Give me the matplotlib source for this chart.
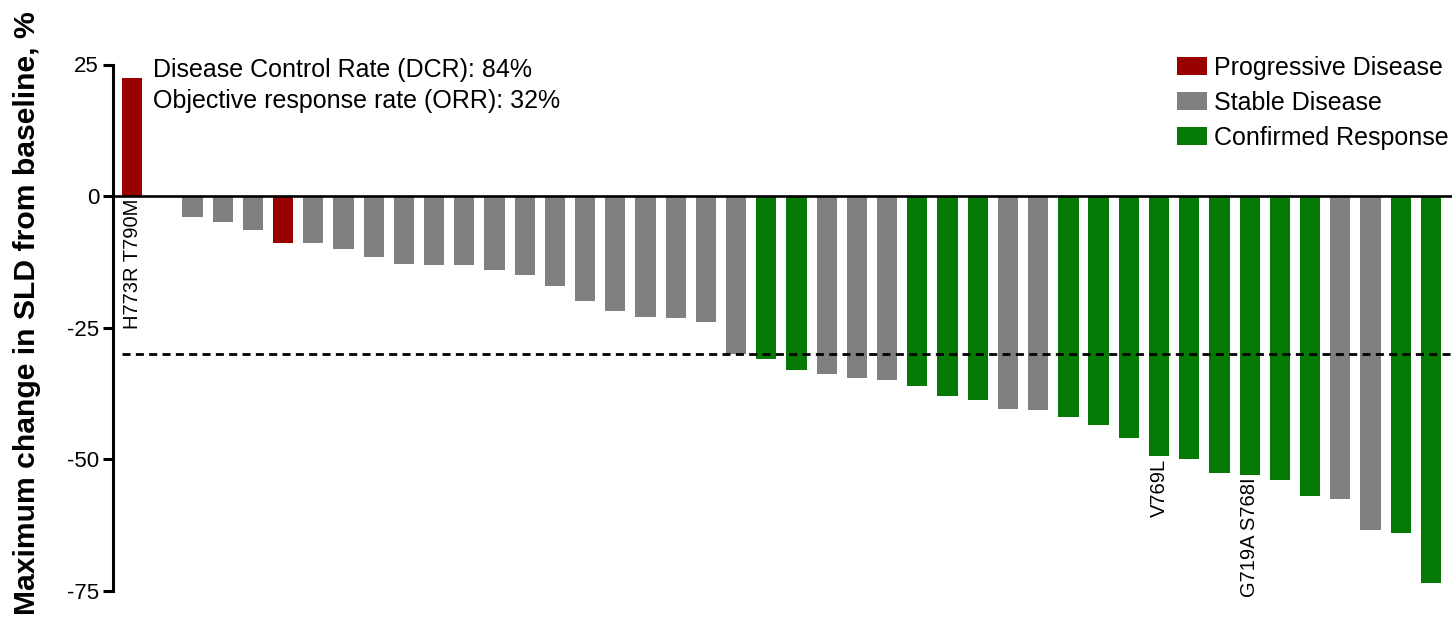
import numpy as np
import matplotlib
matplotlib.use("Agg")
import matplotlib.pyplot as plt
from matplotlib.patches import Patch

plt.rcParams['font.family'] = ['Liberation Sans', 'DejaVu Sans']

# ---- data ----
values = [22.5, 0.0, -4.0, -5.0, -6.4, -8.9,
          -8.9, -10.0, -11.6, -12.9, -13.1, -13.1, -14.1, -15.0, -17.0,
          -20.0, -21.8, -23.0, -23.1, -24.0,
          -30.0, -31.0, -33.0, -33.7, -34.5, -35.0, -36.0, -38.0, -38.7,
          -40.5, -40.7, -42.0, -43.5, -46.0, -49.4, -50.0, -52.5, -53.0,
          -54.0, -57.0, -57.6, -63.5, -64.0, -73.4]
status = (['PD'] + ['SD'] * 4 + ['PD'] + ['SD'] * 15 + ['CR'] * 2 + ['SD'] * 3
          + ['CR'] * 3 + ['SD'] * 2 + ['CR'] * 9 + ['SD'] * 2 + ['CR'] * 2)
mutation_idx = [0, 34, 37]
mutation_txt = ['H773R T790M', 'V769L', 'G719A S768I']

legend_names = {'PD': 'Progressive Disease', 'SD': 'Stable Disease',
                'CR': 'Confirmed Response'}
colors = {'PD': '#9b0000', 'SD': '#808080', 'CR': '#047a04'}

dcr_txt = 'Disease Control Rate (DCR): 84%'
orr_txt = 'Objective response rate (ORR): 32%'
threshold = -30

# ---- figure ----
fig = plt.figure(figsize=(14.52, 6.18), dpi=100)
ax = fig.add_axes([113 / 1452, 1 - 591 / 618, 1 - 113 / 1452, (591 - 64.5) / 618])

x = np.arange(len(values))
ax.bar(x, values, width=0.67, color=[colors[s] for s in status], zorder=2)

ax.axhline(0, color='black', lw=1.9, zorder=3)
ax.axhline(threshold, xmin=0.007, color='black', lw=2.0,
           linestyle=(0, (2.9, 1.9)), zorder=4)

for i, t in zip(mutation_idx, mutation_txt):
    y0 = min(values[i], 0) - 0.5
    ax.text(x[i], y0, t, rotation=90, ha='center', va='top', fontsize=14.5)

ax.text(0.7, 24.0, dcr_txt, fontsize=18, va='center', ha='left')
ax.text(0.7, 18.0, orr_txt, fontsize=18, va='center', ha='left')

ax.set_xlim(-0.63, 43.7)
ax.set_ylim(-75, 25)
ax.set_yticks([25, 0, -25, -50, -75])
ax.set_yticklabels(['25', '0', '-25', '-50', '-75'])
ax.set_xticks([])
for s in ['top', 'right', 'bottom']:
    ax.spines[s].set_visible(False)
ax.spines['left'].set_linewidth(2.2)
ax.tick_params(axis='y', width=2.2, length=7, labelsize=16, pad=3)

fig.text(27 / 1452, 1 - 313 / 618, 'Maximum change in SLD from baseline, %',
         rotation=90, ha='center', va='center', fontsize=21.7, fontweight='bold')

handles = [Patch(facecolor=colors[k], label=legend_names[k]) for k in ['PD', 'SD', 'CR']]
fig.legend(handles=handles, loc='upper left',
           bbox_to_anchor=(1177 / 1452, 1 - 56 / 618),
           frameon=False, fontsize=18, handlelength=1.2, handleheight=0.72,
           handletextpad=0.28, labelspacing=0.44, borderaxespad=0, borderpad=0)

fig.savefig('out.png', dpi=100)
